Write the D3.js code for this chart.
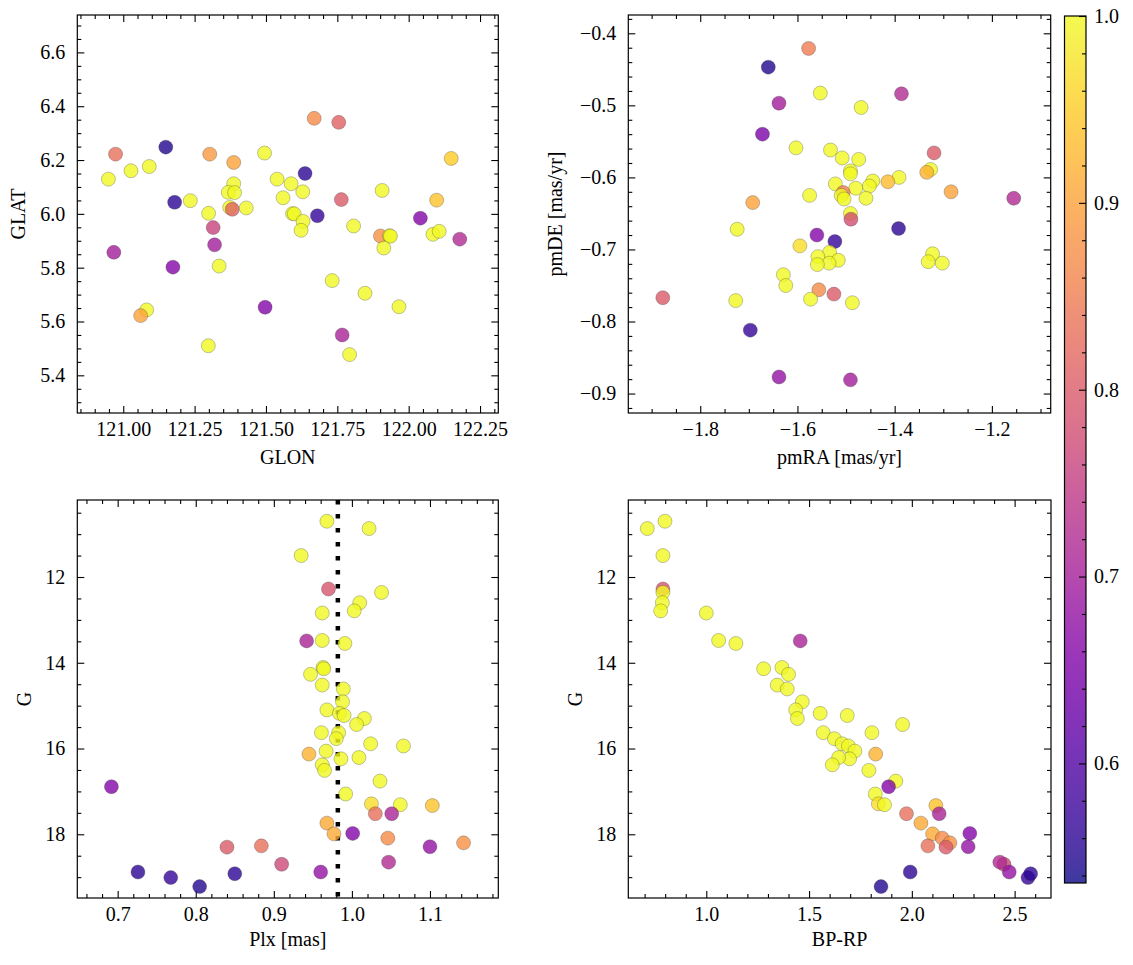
<!DOCTYPE html>
<html><head><meta charset="utf-8">
<script src="https://cdn.jsdelivr.net/npm/d3@7"></script>
<style>
body{margin:0;background:#fff}
text{font-family:"Liberation Serif","Times New Roman",serif;fill:#000}
</style>
</head><body>
<svg id="c" width="1133" height="965"></svg>
<script>
// ---------- data ----------
const glon = [121.669,121.755,120.973,121.149,121.303,121.387,121.495,122.149,120.948,121.027,
121.091,121.637,121.539,121.588,121.387,121.368,121.390,121.629,121.907,121.180,
121.235,121.560,121.764,122.098,121.373,121.382,121.431,121.299,121.593,121.599,
121.680,122.041,121.630,121.315,121.623,121.807,121.901,121.933,121.936,122.085,
122.107,122.179,120.967,121.320,121.913,121.174,121.336,121.732,121.847,121.082,
121.061,121.497,121.966,121.767,121.298,121.793];
const glat = [6.355,6.340,6.222,6.248,6.222,6.191,6.226,6.206,6.129,6.160,
6.176,6.150,6.129,6.112,6.112,6.080,6.079,6.082,6.087,6.043,
6.049,6.060,6.053,6.051,6.024,6.017,6.022,6.002,6.001,6.000,
5.993,5.984,5.972,5.949,5.939,5.955,5.918,5.919,5.917,5.924,
5.935,5.906,5.857,5.885,5.873,5.802,5.806,5.752,5.705,5.643,
5.622,5.653,5.655,5.550,5.510,5.477];
const probPos = [0.87,0.81,0.83,0.55,0.89,0.90,1,0.95,1,1,
1,0.56,1,1,1,1,1,1,1,0.56,
1,1,0.80,0.94,1,0.81,1,1,1,1,
0.57,0.66,1,0.76,1,1,0.88,1,1,1,
1,0.72,0.70,0.70,1,0.66,1,1,1,1,
0.90,0.66,1,0.71,1,1];

const pmra = [-1.577,-1.660,-1.553,-1.386,-1.638,-1.469,-1.672,-1.603,-1.532,-1.319,
-1.508,-1.474,-1.326,-1.334,-1.491,-1.491,-1.391,-1.414,-1.445,-1.522,
-1.452,-1.480,-1.284,-1.506,-1.510,-1.504,-1.459,-1.575,-1.155,-1.692,
-1.491,-1.490,-1.724,-1.392,-1.560,-1.523,-1.595,-1.534,-1.558,-1.516,
-1.535,-1.559,-1.322,-1.331,-1.302,-1.629,-1.624,-1.556,-1.525,-1.573,
-1.487,-1.727,-1.877,-1.697,-1.638,-1.491];
const pmde = [-0.421,-0.447,-0.483,-0.484,-0.497,-0.503,-0.540,-0.559,-0.562,-0.566,
-0.573,-0.575,-0.589,-0.593,-0.591,-0.595,-0.600,-0.606,-0.605,-0.609,
-0.612,-0.615,-0.620,-0.621,-0.625,-0.630,-0.629,-0.625,-0.629,-0.635,
-0.650,-0.658,-0.672,-0.671,-0.680,-0.689,-0.695,-0.704,-0.710,-0.715,
-0.719,-0.721,-0.706,-0.717,-0.719,-0.735,-0.750,-0.756,-0.762,-0.769,
-0.774,-0.771,-0.767,-0.812,-0.877,-0.881];
const probPm = [0.85,0.55,1,0.72,0.70,1,0.65,1,1,0.80,
1,1,1,0.92,1,1,1,0.93,1,1,
1,1,0.90,0.85,1,1,1,1,0.72,0.90,
1,0.78,1,0.56,0.66,0.57,0.97,1,1,1,
1,1,1,1,1,1,1,0.87,0.80,1,
1,1,0.80,0.57,0.68,0.70];

const gmag = [10.70,10.87,11.50,12.28,12.36,12.60,12.79,12.84,13.49,13.48,
13.55,14.11,14.14,14.27,14.52,14.61,14.91,15.10,15.18,15.23,
15.30,15.44,15.63,15.63,15.77,15.89,15.94,16.06,16.13,16.24,
16.21,16.38,16.51,16.76,16.89,17.06,17.29,17.31,17.33,17.52,
17.52,17.74,17.99,17.98,18.09,18.20,18.30,18.27,18.29,18.70,
18.65,18.88,18.88,19.01,18.92,19.22];
const plx = [0.968,1.022,0.935,0.970,1.038,1.010,1.003,0.962,0.942,0.962,
0.991,0.963,0.964,0.947,0.962,0.989,0.988,0.968,0.984,0.990,
1.016,1.006,0.961,0.983,0.980,1.024,1.066,0.967,0.945,0.986,
1.009,0.962,0.965,1.036,0.692,0.992,1.025,1.062,1.103,1.030,
1.051,0.968,0.977,1.001,1.046,1.143,0.840,0.884,1.100,0.910,
1.047,0.960,0.726,0.768,0.850,0.805];
const bprp = [0.799,0.713,0.789,0.789,0.789,0.786,0.778,1.000,1.457,1.060,
1.144,1.368,1.279,1.400,1.345,1.394,1.467,1.435,1.554,1.686,
1.443,1.955,1.569,1.806,1.623,1.661,1.691,1.723,1.824,1.697,
1.644,1.613,1.791,1.922,1.887,1.822,1.837,1.867,2.117,1.974,
2.133,2.044,2.101,2.282,2.148,2.185,2.166,2.078,2.274,2.448,
2.428,2.474,1.992,2.565,2.578,1.850];
const probPhot = [1,1,1,0.79,1,1,1,1,0.71,1,
1,1,1,1,1,1,1,1,1,1,
1,1,1,1,1,1,1,1,0.92,1,
1,1,1,1,0.66,1,0.97,1,0.94,0.83,
0.71,0.91,0.91,0.66,0.87,0.88,0.80,0.83,0.68,0.77,
0.72,0.68,0.56,0.57,0.56,0.55];

const plxRef = 0.982;

const glonTicks = [121.00,121.25,121.50,121.75,122.00,122.25];
const glatTicks = [5.4,5.6,5.8,6.0,6.2,6.4,6.6];
const pmraTicks = [-1.8,-1.6,-1.4,-1.2];
const pmdeTicks = [-0.9,-0.8,-0.7,-0.6,-0.5,-0.4];
const plxTicks = [0.7,0.8,0.9,1.0,1.1];
const gTicks = [12,14,16,18];
const colTicks = [1.0,1.5,2.0,2.5];
const cbTicks = [0.6,0.7,0.8,0.9,1.0];

const vmin = 0.536, vmax = 1.0;

// ---------- drawing ----------
const svg = d3.select("#c");
const FS = 20;
const color = v => d3.interpolatePlasma((v - vmin) / (vmax - vmin));
const minus = s => s.replace(/-/g, "\u2212");
const range = (a, b, step) => d3.range(Math.round((b - a) / step) + 1).map(i => +(a + i * step).toFixed(6));

function panel(o) {
  const g = svg.append("g");
  const x = d3.scaleLinear().domain(o.xDom).range([o.x0, o.x1]);
  const y = d3.scaleLinear().domain(o.yDom).range([o.y1, o.y0]);
  const xMin = range(o.xMinor[0], o.xMinor[1], o.xMinor[2]).filter(v => !o.xTicks.some(t => Math.abs(t - v) < 1e-6));
  const yMin = range(o.yMinor[0], o.yMinor[1], o.yMinor[2]).filter(v => !o.yTicks.some(t => Math.abs(t - v) < 1e-6));

  const axes = [
    [d3.axisBottom(x), o.y1, "x"], [d3.axisTop(x), o.y0, "x"],
    [d3.axisLeft(y), o.x0, "y"], [d3.axisRight(y), o.x1, "y"]
  ];
  axes.forEach(([ax, pos, kind], i) => {
    const major = kind === "x" ? o.xTicks : o.yTicks;
    const minor = kind === "x" ? xMin : yMin;
    const fmt = kind === "x" ? o.xFmt : o.yFmt;
    const tr = kind === "x" ? `translate(0,${pos})` : `translate(${pos},0)`;
    const showLab = (i === 0 || i === 2);
    const axM = ax.scale(kind === "x" ? x : y);
    const a1 = (kind === "x" ? (i === 0 ? d3.axisBottom(x) : d3.axisTop(x)) : (i === 2 ? d3.axisLeft(y) : d3.axisRight(y)))
      .tickValues(major).tickSizeInner(-7).tickSizeOuter(0)
      .tickPadding(kind === "x" ? 8.5 : 12)
      .tickFormat(showLab ? (d => minus(fmt(d))) : "");
    const a2 = (kind === "x" ? (i === 0 ? d3.axisBottom(x) : d3.axisTop(x)) : (i === 2 ? d3.axisLeft(y) : d3.axisRight(y)))
      .tickValues(minor).tickSizeInner(-4).tickSizeOuter(0).tickFormat("");
    const gm = g.append("g").attr("transform", tr).call(a1);
    const gn = g.append("g").attr("transform", tr).call(a2);
    [gm, gn].forEach(s => {
      s.select(".domain").remove();
      s.selectAll("line").attr("stroke", "#000").attr("stroke-width", 1.1);
      s.selectAll("text").attr("font-size", FS).attr("font-family", '"Liberation Serif",serif').attr("fill", "#000");
    });
  });

  if (o.vline !== undefined) {
    g.append("line").attr("x1", x(o.vline)).attr("x2", x(o.vline))
      .attr("y1", o.y0).attr("y2", o.y1)
      .attr("stroke", "#000").attr("stroke-width", 4.5).attr("stroke-dasharray", "4.5 9.5");
  }

  const clip = "clip" + Math.random().toString(36).slice(2);
  svg.append("clipPath").attr("id", clip).append("rect")
    .attr("x", o.x0).attr("y", o.y0).attr("width", o.x1 - o.x0).attr("height", o.y1 - o.y0);
  g.append("g").attr("clip-path", `url(#${clip})`)
    .selectAll("circle").data(o.xs.map((v, i) => [v, o.ys[i], o.ps[i]]))
    .join("circle")
    .attr("cx", d => x(d[0])).attr("cy", d => y(d[1])).attr("r", 7)
    .attr("fill", d => color(d[2])).attr("fill-opacity", 0.8)
    .attr("stroke", "#3a3a3a").attr("stroke-opacity", 0.6).attr("stroke-width", 0.5);

  g.append("rect").attr("x", o.x0).attr("y", o.y0).attr("width", o.x1 - o.x0).attr("height", o.y1 - o.y0)
    .attr("fill", "none").attr("stroke", "#000").attr("stroke-width", 1.2);

  g.append("text").attr("x", (o.x0 + o.x1) / 2).attr("y", o.xLabY)
    .attr("text-anchor", "middle").attr("font-size", FS).text(o.xLabel);
  g.append("text").attr("transform", `translate(${o.yLabX},${(o.y0 + o.y1) / 2}) rotate(-90)`)
    .attr("text-anchor", "middle").attr("font-size", FS).text(o.yLabel);
}

panel({x0: 77.3, x1: 498.3, y0: 15, y1: 413,
  xDom: [120.839, 122.314], yDom: [5.260, 6.739],
  xTicks: glonTicks, yTicks: glatTicks, xMinor: [120.85, 122.30, 0.05], yMinor: [5.30, 6.70, 0.05],
  xFmt: d3.format(".2f"), yFmt: d3.format(".1f"),
  xLabel: "GLON", yLabel: "GLAT", xLabY: 464, yLabX: 25,
  xs: glon, ys: glat, ps: probPos});

panel({x0: 628.3, x1: 1050.7, y0: 15, y1: 413,
  xDom: [-1.948, -1.079], yDom: [-0.927, -0.3746],
  xTicks: pmraTicks, yTicks: pmdeTicks, xMinor: [-1.90, -1.10, 0.05], yMinor: [-0.92, -0.38, 0.02],
  xFmt: d3.format(".1f"), yFmt: d3.format(".1f"),
  xLabel: "pmRA [mas/yr]", yLabel: "pmDE [mas/yr]", xLabY: 464, yLabX: 562,
  xs: pmra, ys: pmde, ps: probPm});

panel({x0: 77.3, x1: 498.3, y0: 500, y1: 898,
  xDom: [0.6483, 1.1875], yDom: [19.486, 10.204],
  xTicks: plxTicks, yTicks: gTicks, xMinor: [0.66, 1.18, 0.02], yMinor: [10.5, 19.0, 0.5],
  xFmt: d3.format(".1f"), yFmt: d3.format("d"),
  xLabel: "Plx [mas]", yLabel: "G", xLabY: 946, yLabX: 30.5,
  xs: plx, ys: gmag, ps: probPhot, vline: plxRef});

panel({x0: 628.3, x1: 1051, y0: 500, y1: 898,
  xDom: [0.6206, 2.677], yDom: [19.486, 10.204],
  xTicks: colTicks, yTicks: gTicks, xMinor: [0.7, 2.6, 0.1], yMinor: [10.5, 19.0, 0.5],
  xFmt: d3.format(".1f"), yFmt: d3.format("d"),
  xLabel: "BP-RP", yLabel: "G", xLabY: 946, yLabX: 582,
  xs: bprp, ys: gmag, ps: probPhot});

// ---------- colorbar ----------
const cb = {x0: 1064.5, x1: 1086, y0: 16, y1: 883};
const cy = d3.scaleLinear().domain([vmin, vmax]).range([cb.y1, cb.y0]);
const grad = svg.append("defs").append("linearGradient").attr("id", "cbg")
  .attr("x1", 0).attr("x2", 0).attr("y1", 1).attr("y2", 0);
d3.range(0, 1.0001, 0.02).forEach(t => grad.append("stop")
  .attr("offset", t).attr("stop-color", d3.interpolatePlasma(t)).attr("stop-opacity", 0.8));
svg.append("rect").attr("x", cb.x0).attr("y", cb.y0).attr("width", cb.x1 - cb.x0).attr("height", cb.y1 - cb.y0)
  .attr("fill", "url(#cbg)");
const cbMinor = range(0.54, 0.98, 0.02).filter(v => !cbTicks.some(t => Math.abs(t - v) < 1e-6));
const cbA = svg.append("g").attr("transform", `translate(${cb.x1},0)`)
  .call(d3.axisRight(cy).tickValues(cbTicks).tickSizeInner(-7).tickSizeOuter(0).tickPadding(8).tickFormat(d3.format(".1f")));
const cbB = svg.append("g").attr("transform", `translate(${cb.x1},0)`)
  .call(d3.axisRight(cy).tickValues(cbMinor).tickSizeInner(-4).tickSizeOuter(0).tickFormat(""));
[cbA, cbB].forEach(s => {
  s.select(".domain").remove();
  s.selectAll("line").attr("stroke", "#000").attr("stroke-width", 1.1);
  s.selectAll("text").attr("font-size", FS).attr("font-family", '"Liberation Serif",serif').attr("fill", "#000");
});
svg.append("rect").attr("x", cb.x0).attr("y", cb.y0).attr("width", cb.x1 - cb.x0).attr("height", cb.y1 - cb.y0)
  .attr("fill", "none").attr("stroke", "#000").attr("stroke-width", 1.2);
</script>
</body></html>
